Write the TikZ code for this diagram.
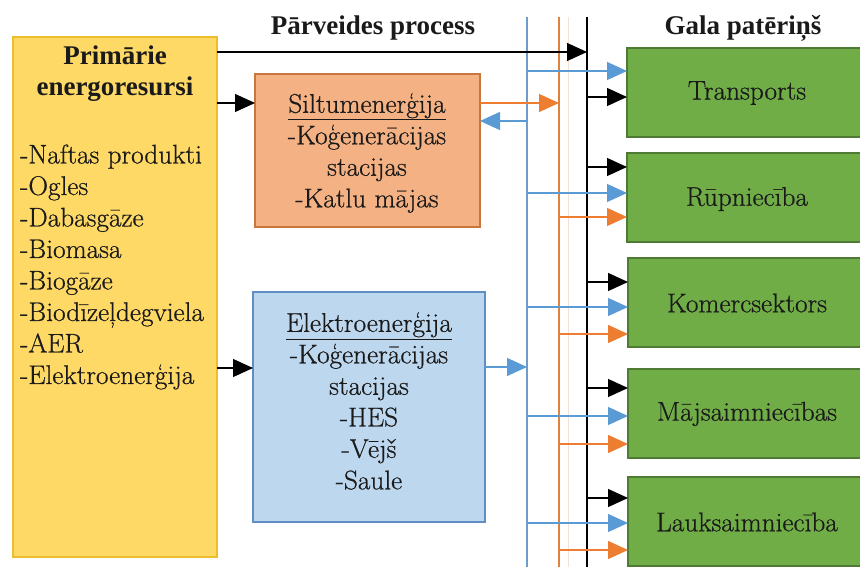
\documentclass[tikz,border=0pt]{standalone}
\usepackage{fontspec}
\setmainfont{Latin Modern Roman}[FakeBold=0.6, FakeStretch=1.01]
\newfontfamily\titlefont{LiberationSerif-Bold.ttf}
\usetikzlibrary{arrows.meta}
\definecolor{yfill}{HTML}{FFD966}
\definecolor{ydraw}{HTML}{EDBE2B}
\definecolor{ofill}{HTML}{F4B183}
\definecolor{odraw}{HTML}{C8763E}
\definecolor{bfill}{HTML}{BDD7EE}
\definecolor{bdraw}{HTML}{5F8FC2}
\definecolor{gfill}{HTML}{70AD47}
\definecolor{gdraw}{HTML}{4E7A33}
\definecolor{bline}{HTML}{6E9DCB}
\definecolor{barrow}{HTML}{5B9BD5}
\definecolor{oline}{HTML}{E0823E}
\definecolor{oarrow}{HTML}{ED7D31}
\definecolor{txtcol}{HTML}{1A1A1A}
\begin{document}
\begin{tikzpicture}[x=1pt,y=-1pt,
  boxnode/.style={draw, line width=1.5pt, inner sep=0pt, outer sep=0pt, anchor=north west},
  txt/.style={font=\fontsize{27}{31.5}\selectfont, text=txtcol, inner sep=0pt, align=center},
  btxt/.style={font=\fontsize{27}{31.5}\selectfont\titlefont, text=txtcol, inner sep=0pt, align=center},
  gbox/.style={boxnode, fill=gfill, draw=gdraw, minimum width=245pt, minimum height=89pt},
  conn/.style={line width=1.2pt, -{Triangle[length=20pt,width=18pt]}},
  vline/.style={line width=2.4pt}
]
\useasboundingbox (0,0) rectangle (860,567);
\clip (0,0) rectangle (860,567);
\fill[white] (0,0) rectangle (860,567);

% titles
\node[btxt] (t1) at (373,28) {Pārveides process};
\node[btxt] (t2) at (743,28) {Gala patēriņš};

% primary resources
\node[boxnode, fill=yfill, draw=ydraw, minimum width=204pt, minimum height=520pt] (yb) at (13,37) {};
\node[btxt] (ytitle) at (115,73.5) {Primārie\\energoresursi};
\node[txt, align=left, anchor=west] (ylist) at (20,267) {-Naftas produkti\\-Ogles\\-Dabasgāze\\-Biomasa\\-Biogāze\\-Biodīzeļdegviela\\-AER\\-Elektroenerģija};

% heat
\node[boxnode, fill=ofill, draw=odraw, minimum width=225pt, minimum height=153pt] (ob) at (255,74) {};
\node[txt] (otxt) at (367,153) {\underline{Siltumenerģija}\\-Koģenerācijas\\stacijas\\-Katlu mājas};

% electricity
\node[boxnode, fill=bfill, draw=bdraw, minimum width=232pt, minimum height=230pt] (bb) at (253,292) {};
\node[txt] (btx) at (369,401) {\underline{Elektroenerģija}\\-Koģenerācijas\\stacijas\\-HES\\-Vējš\\-Saule};

% consumers
\node[gbox] (g1) at (627,48) {};
\node[gbox] (g2) at (627,153) {};
\node[gbox] (g3) at (628,258) {};
\node[gbox] (g4) at (628,369) {};
\node[gbox] (g5) at (628,477) {};
\node[txt] (g1t) at (747,93) {Transports};
\node[txt] (g2t) at (747,199) {Rūpniecība};
\node[txt] (g3t) at (747,303) {Komercsektors};
\node[txt] (g4t) at (747,414) {Mājsaimniecības};
\node[txt] (g5t) at (747,522) {Lauksaimniecība};

% bus lines
\coordinate (blT) at (527,17); \coordinate (blB) at (527,567);
\coordinate (olT) at (559,17); \coordinate (olB) at (559,567);
\coordinate (flT) at (568,17); \coordinate (flB) at (568,567);
\coordinate (klT) at (587,17); \coordinate (klB) at (587,567);
\draw[vline, bline] (blT) -- (blB);
\draw[line width=1pt, oline!25] (flT) -- (flB);
\draw[vline, oline] (olT) -- (olB);
\draw[vline, black, line width=2.2pt] (klT) -- (klB);

% inputs
\draw[conn] (yb.east |- 0,52) -- (klT |- 0,52);
\draw[conn] (yb.east |- 0,103) -- (ob.west |- 0,103);
\draw[conn] (yb.east |- 0,368) -- (bb.west |- 0,368);
\draw[conn, oarrow] (ob.east |- 0,103) -- (olT |- 0,103);
\draw[conn, barrow] (blT |- 0,121) -- (ob.east |- 0,121);
\draw[conn, barrow] (bb.east |- 0,367) -- (blT |- 0,367);

% outputs
\draw[conn, barrow] (blT |- 0,71) -- (g1.west |- 0,71);
\draw[conn] (klT |- 0,97) -- (g1.west |- 0,97);
\foreach \g/\k/\b/\o in {g2/167/193/217, g3/282/307/334, g4/388/416/444, g5/498/523/550}{
  \draw[conn] (klT |- 0,\k) -- (\g.west |- 0,\k);
  \draw[conn, barrow] (blT |- 0,\b) -- (\g.west |- 0,\b);
  \draw[conn, oarrow] (olT |- 0,\o) -- (\g.west |- 0,\o);
}
\end{tikzpicture}
\end{document}
